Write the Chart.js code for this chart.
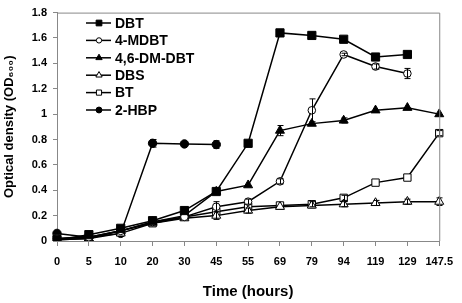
<!DOCTYPE html>
<html><head><meta charset="utf-8">
<script src="https://cdn.jsdelivr.net/npm/chart.js@4"></script>
<style>html,body{margin:0;padding:0;background:#fff}</style>
</head><body>
<canvas id="c" width="462" height="303"></canvas>
<script>
const timeLabels = ['0','5','10','20','30','45','55','69','79','94','119','129','147.5'];
const dbt      = [0.01,0.05,0.10,0.16,0.24,0.39,0.77,1.64,1.62,1.59,1.45,1.47,null];
const mdbt4    = [0.02,0.03,0.08,0.15,0.19,0.27,0.31,0.47,1.03,1.47,1.375,1.32,null];
const dmdbt46  = [0.01,0.02,0.08,0.15,0.20,0.39,0.44,0.87,0.925,0.95,1.03,1.05,1.00];
const dbs      = [0.01,0.02,0.06,0.14,0.18,0.20,0.24,0.27,0.28,0.29,0.30,0.31,0.31];
const bt       = [0.02,0.03,0.08,0.14,0.19,0.23,0.27,0.28,0.29,0.34,0.46,0.50,0.85];
const hbp2     = [0.06,0.03,0.06,0.77,0.765,0.76,null,null,null,null,null,null,null];
const dbtErr     = [0,0,0,0,0,0,0,0,0,0,0,0,0];
const mdbt4Err   = [0,0,0,0,0,0.04,0.02,0.02,0.09,0.01,0.02,0.04,0];
const dmdbt46Err = [0,0,0,0,0,0,0,0.04,0,0.02,0,0,0];
const dbsErr     = [0,0,0,0,0,0.03,0.02,0,0,0.02,0.02,0.02,0.03];
const btErr      = [0,0,0,0,0,0,0,0,0.02,0.02,0,0,0.02];
const hbp2Err    = [0,0,0,0.03,0,0.03,0,0,0,0,0,0,0];
const yTicks = [0,0.2,0.4,0.6,0.8,1,1.2,1.4,1.6,1.8];

const FONT = '"Liberation Sans", Arial, sans-serif';

function ds(label, data, err, style, radius, filled) {
  return {
    label, data, errors: err,
    borderColor: '#000', borderWidth: 1.5,
    pointStyle: style, pointRadius: radius, pointHoverRadius: radius,
    pointBackgroundColor: filled ? '#000' : '#fff',
    pointBorderColor: '#000', pointBorderWidth: 1,
    tension: 0, fill: false, spanGaps: false
  };
}

const datasets = [
  ds('DBT', dbt, dbtErr, 'rect', 5.8, true),
  ds('4-MDBT', mdbt4, mdbt4Err, 'circle', 3.8, false),
  ds('4,6-DM-DBT', dmdbt46, dmdbt46Err, 'triangle', 5.2, true),
  ds('DBS', dbs, dbsErr, 'triangle', 5.2, false),
  ds('BT', bt, btErr, 'rect', 5.2, false),
  ds('2-HBP', hbp2, hbp2Err, 'circle', 4.2, true)
];

const boxPlugin = {
  id: 'box',
  afterDraw(chart) {
    const a = chart.chartArea, ctx = chart.ctx;
    ctx.save();
    ctx.strokeStyle = '#888'; ctx.lineWidth = 1;
    ctx.beginPath();
    ctx.moveTo(a.left, a.top + 0.5); ctx.lineTo(a.right + 0.5, a.top + 0.5);
    ctx.lineTo(a.right + 0.5, a.bottom);
    ctx.stroke();
    ctx.restore();
  }
};

const errPlugin = {
  id: 'errbars',
  afterDatasetsDraw(chart) {
    const ctx = chart.ctx, ys = chart.scales.y;
    ctx.save();
    ctx.strokeStyle = '#000'; ctx.lineWidth = 1;
    chart.data.datasets.forEach((d, i) => {
      const meta = chart.getDatasetMeta(i);
      meta.data.forEach((pt, j) => {
        const e = d.errors[j], v = d.data[j];
        if (!e || v == null) return;
        const x = Math.round(pt.x) + 0.5;
        const y1 = ys.getPixelForValue(v + e), y2 = ys.getPixelForValue(v - e);
        ctx.beginPath();
        ctx.moveTo(x, y1); ctx.lineTo(x, y2);
        ctx.moveTo(x - 3, y1); ctx.lineTo(x + 3, y1);
        ctx.moveTo(x - 3, y2); ctx.lineTo(x + 3, y2);
        ctx.stroke();
      });
    });
    ctx.restore();
  }
};

const legendPlugin = {
  id: 'innerLegend',
  afterDraw(chart) {
    const ctx = chart.ctx;
    const x0 = 86, y0 = 23, step = 17.4;
    ctx.save();
    ctx.font = 'bold 14px ' + FONT;
    ctx.textBaseline = 'middle';
    ctx.fillStyle = '#000';
    chart.data.datasets.forEach((d, i) => {
      const y = y0 + i * step;
      ctx.strokeStyle = '#000'; ctx.lineWidth = 1.5;
      ctx.beginPath(); ctx.moveTo(x0, y); ctx.lineTo(x0 + 25, y); ctx.stroke();
      ctx.fillStyle = d.pointBackgroundColor; ctx.strokeStyle = '#000'; ctx.lineWidth = 1;
      Chart.helpers.drawPoint(ctx, {pointStyle: d.pointStyle, radius: d.pointRadius * 0.7, rotation: 0, borderWidth: 1}, x0 + 13, y);
      ctx.fillStyle = '#000';
      ctx.fillText(d.label, x0 + 29, y + 1);
    });
    ctx.restore();
  }
};

new Chart(document.getElementById('c'), {
  type: 'line',
  data: { labels: timeLabels, datasets },
  options: {
    responsive: false, animation: false,
    layout: { padding: { left: 0, right: 18, top: 6, bottom: 0 } },
    plugins: { legend: { display: false }, tooltip: { enabled: false } },
    scales: {
      x: {
        type: 'category', offset: false,
        grid: { drawOnChartArea: false, drawTicks: true, tickLength: 5, color: '#888' },
        border: { color: '#888', width: 1 },
        ticks: { color: '#000', font: { family: FONT, size: 11, weight: 'bold' }, padding: 9, maxRotation: 0, autoSkip: false },
        title: { display: true, text: 'Time (hours)', color: '#000', font: { family: FONT, size: 15, weight: 'bold' }, padding: { top: 9, bottom: 2 } },
        afterFit(s) { s.height = 62; }
      },
      y: {
        min: 0, max: 1.8,
        afterBuildTicks(s) { s.ticks = yTicks.map(v => ({ value: v })); },
        grid: { drawOnChartArea: false, drawTicks: true, tickLength: 4, color: '#888' },
        border: { color: '#888', width: 1 },
        ticks: { color: '#000', font: { family: FONT, size: 11, weight: 'bold' }, padding: 6,
          callback: v => String(Number(v.toFixed(1))) },
        title: { display: true, text: 'Optical density (OD₆₀₀)', color: '#000', font: { family: FONT, size: 13, weight: 'bold' }, padding: { top: 2, bottom: 4 } },
        afterFit(s) { s.width = 57; }
      }
    }
  },
  plugins: [boxPlugin, errPlugin, legendPlugin]
});
</script>
</body></html>
